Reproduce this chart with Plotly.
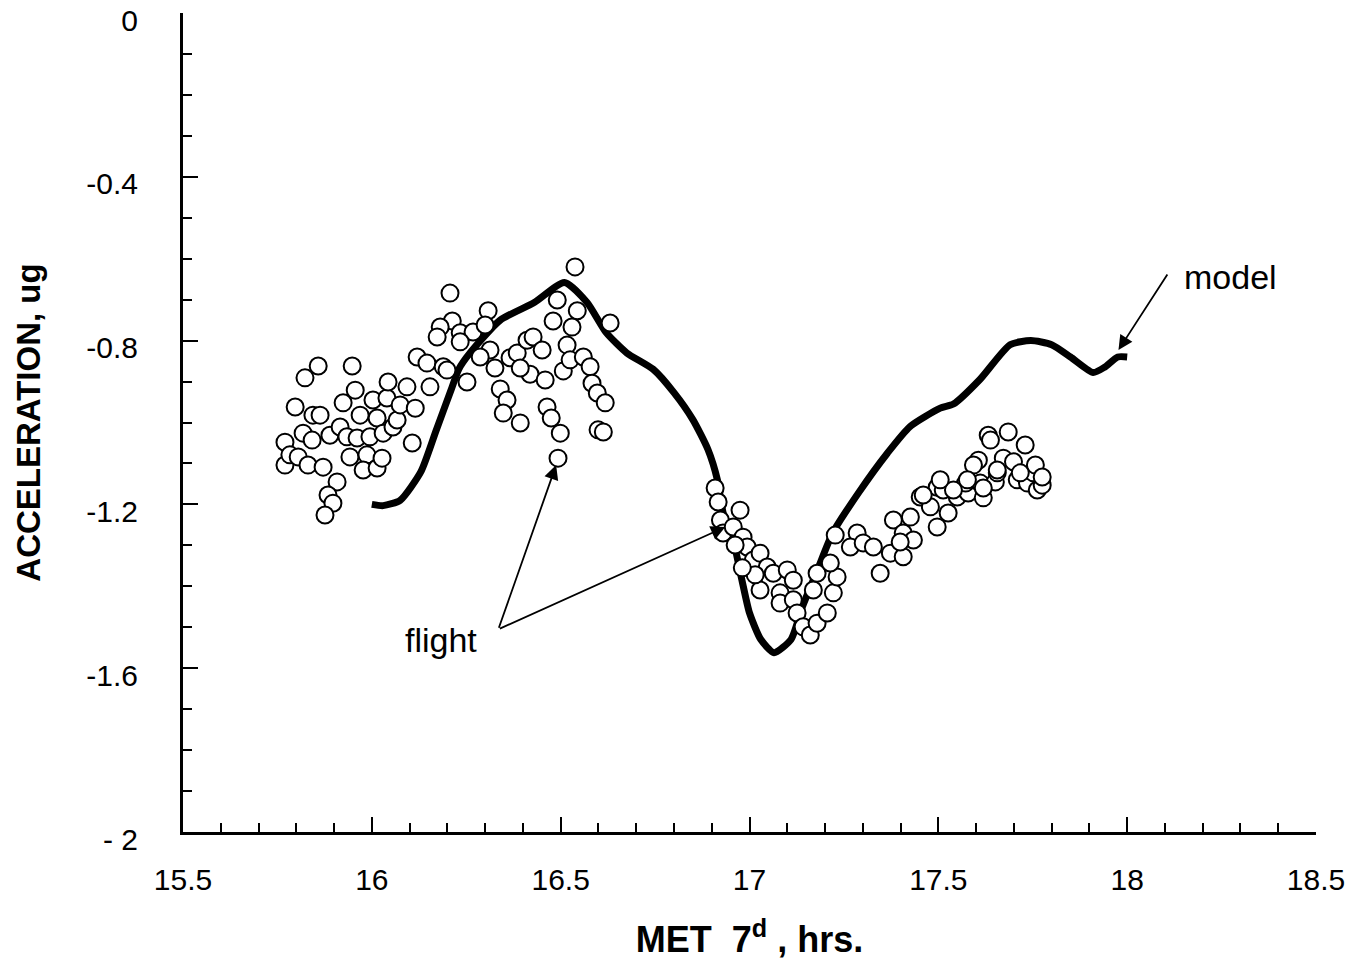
import plotly.graph_objects as go

# ---- data ----
model_x = [16.00, 16.03, 16.075, 16.13, 16.17, 16.21, 16.23, 16.26, 16.34, 16.43, 16.51,
           16.57, 16.62, 16.675, 16.745, 16.80, 16.85, 16.89, 16.915, 16.93, 16.96, 16.98,
           17.00, 17.03, 17.065, 17.11, 17.14, 17.18, 17.22, 17.29, 17.365, 17.425, 17.505,
           17.54, 17.61, 17.69, 17.745, 17.80, 17.85, 17.91, 17.94, 17.975, 18.00]
model_y = [-1.200, -1.203, -1.19, -1.12, -1.02, -0.92, -0.87, -0.83, -0.75, -0.707, -0.658,
           -0.707, -0.78, -0.83, -0.87, -0.927, -0.993, -1.066, -1.14, -1.22, -1.30, -1.385,
           -1.465, -1.53, -1.562, -1.53, -1.45, -1.36, -1.27, -1.17, -1.075, -1.01, -0.965,
           -0.955, -0.895, -0.81, -0.80, -0.81, -0.84, -0.878, -0.865, -0.84, -0.84]

flight_x = [
    15.770, 15.770, 15.783, 15.805, 15.797, 15.823, 15.858, 15.948, 15.818, 15.842,
    15.831, 15.844, 15.863, 15.871, 15.889, 15.916, 15.924, 15.956, 15.934, 15.961,
    15.942, 15.969, 15.995, 15.987, 15.977, 16.003, 16.014, 16.014, 16.030, 16.027,
    16.040, 16.043, 16.056, 16.067, 16.075, 16.093, 16.115, 16.107, 15.908, 15.884,
    15.897, 15.876,
    16.120, 16.146, 16.189, 16.154, 16.207, 16.308, 16.213, 16.181, 16.173, 16.234,
    16.268, 16.300, 16.234, 16.313, 16.287, 16.326, 16.252, 16.199, 16.340, 16.358,
    16.348, 16.393, 16.366, 16.385, 16.419, 16.393, 16.411, 16.427, 16.451, 16.459,
    16.480, 16.491, 16.538, 16.544, 16.530, 16.517, 16.507, 16.525, 16.560, 16.578,
    16.583, 16.597, 16.618, 16.599, 16.613, 16.631, 16.464, 16.475, 16.499, 16.493,
    16.909, 16.917, 16.975, 16.923, 16.930, 16.957, 16.983, 16.994, 17.010, 17.028,
    17.047, 17.063, 17.100, 17.116, 17.028, 17.081, 17.081, 17.116, 17.126, 17.142,
    17.161, 17.179, 17.169, 17.179, 17.206, 17.222, 17.232, 17.214, 17.227, 17.285,
    17.267, 17.301, 17.346, 17.328, 17.373, 17.381, 17.407, 17.434, 17.426, 17.452,
    17.479, 17.497, 17.497, 16.962, 17.015, 16.981,
    17.407, 17.399, 17.526, 17.513, 17.550, 17.579, 17.572, 17.619, 17.611, 17.651,
    17.656, 17.709, 17.736, 17.762, 17.775, 17.752, 17.632, 17.638, 17.685, 17.730,
    17.606, 17.593, 17.672, 17.699, 17.757, 17.775, 17.717, 17.656, 17.619, 17.577,
    17.540, 17.505, 17.460,
]
flight_y = [
    -1.048, -1.104, -1.079, -1.084, -0.962, -0.891, -0.862, -0.862, -1.026, -1.043,
    -1.104, -0.982, -0.982, -1.109, -1.031, -1.011, -0.952, -0.921, -1.035, -1.038,
    -1.084, -0.982, -1.035, -1.079, -1.116, -0.945, -0.989, -1.111, -1.026, -1.087,
    -0.940, -0.901, -1.011, -0.994, -0.957, -0.913, -0.965, -1.050, -1.145, -1.177,
    -1.197, -1.226,
    -0.840, -0.855, -0.864, -0.913, -0.684, -0.727, -0.752, -0.767, -0.791, -0.781,
    -0.779, -0.762, -0.803, -0.823, -0.840, -0.867, -0.901, -0.872, -0.918, -0.945,
    -0.977, -1.001, -0.842, -0.830, -0.882, -0.867, -0.799, -0.791, -0.823, -0.896,
    -0.752, -0.701, -0.620, -0.727, -0.767, -0.811, -0.874, -0.847, -0.840, -0.864,
    -0.904, -0.928, -0.952, -1.018, -1.023, -0.757, -0.962, -0.989, -1.026, -1.087,
    -1.160, -1.194, -1.214, -1.238, -1.270, -1.255, -1.280, -1.304, -1.336, -1.319,
    -1.353, -1.368, -1.360, -1.385, -1.409, -1.416, -1.441, -1.433, -1.465, -1.499,
    -1.519, -1.490, -1.409, -1.368, -1.465, -1.416, -1.377, -1.343, -1.275, -1.270,
    -1.304, -1.294, -1.368, -1.304, -1.319, -1.238, -1.270, -1.287, -1.231, -1.182,
    -1.206, -1.255, -1.158, -1.299, -1.372, -1.355,
    -1.328, -1.292, -1.221, -1.165, -1.182, -1.172, -1.148, -1.184, -1.148, -1.145,
    -1.123, -1.140, -1.148, -1.165, -1.153, -1.123, -1.031, -1.043, -1.023, -1.055,
    -1.092, -1.104, -1.087, -1.096, -1.104, -1.133, -1.123, -1.116, -1.160, -1.140,
    -1.165, -1.140, -1.177,
]

x_tickvals = [15.5, 16, 16.5, 17, 17.5, 18, 18.5]
x_ticktext = ["15.5", "16", "16.5", "17", "17.5", "18", "18.5"]
y_tickvals = [0, -0.4, -0.8, -1.2, -1.6, -2]
y_ticktext = ["0", "-0.4", "-0.8", "-1.2", "-1.6", "- 2"]

FONT = "Liberation Sans, Arial, Helvetica, sans-serif"

fig = go.Figure()
fig.add_trace(go.Scatter(
    x=model_x, y=model_y, mode="lines",
    line=dict(color="black", width=7, shape="spline", smoothing=0.6),
    name="model", showlegend=False, hoverinfo="skip"))
fig.add_trace(go.Scatter(
    x=flight_x, y=flight_y, mode="markers",
    marker=dict(size=17, color="white", line=dict(color="black", width=2)),
    name="flight", showlegend=False))

arrow_common = dict(xref="x", yref="y", axref="x", ayref="y", showarrow=True,
                    arrowhead=2, arrowsize=1.6, arrowwidth=1.8, arrowcolor="black", text="")
fig.add_annotation(x=17.977, y=-0.823, ax=18.109, ay=-0.635, **arrow_common)
fig.add_annotation(x=16.488, y=-1.104, ax=16.335, ay=-1.505, **arrow_common)
fig.add_annotation(x=16.936, y=-1.255, ax=16.335, ay=-1.505, **arrow_common)

fig.add_annotation(x=18.144, y=-0.645, xref="x", yref="y", text="model", showarrow=False,
                   xanchor="left", yanchor="middle", font=dict(family=FONT, size=34, color="black"))
fig.add_annotation(x=16.083, y=-1.531, xref="x", yref="y", text="flight", showarrow=False,
                   xanchor="left", yanchor="middle", font=dict(family=FONT, size=34, color="black"))

fig.update_layout(
    width=1358, height=966,
    margin=dict(l=183, r=42, t=13, b=134, autoexpand=False),
    paper_bgcolor="white", plot_bgcolor="white",
    font=dict(family=FONT, size=30, color="black"),
)
fig.update_xaxes(
    range=[15.5, 18.5], showgrid=False, zeroline=False, automargin=False,
    showline=True, linecolor="black", linewidth=3,
    ticks="inside", ticklen=15, tickwidth=2, tickcolor="black",
    tickvals=x_tickvals, ticktext=x_ticktext, ticklabelstandoff=19,
    ticklabeloverflow="allow",
    tickfont=dict(family=FONT, size=30),
    minor=dict(dtick=0.1, tick0=15.5, ticks="inside", ticklen=9, tickwidth=2, tickcolor="black"),
    title=dict(text="<b>MET  7<sup>d</sup> , hrs.</b>", font=dict(family=FONT, size=36), standoff=32),
)
fig.update_yaxes(
    range=[-2, 0], showgrid=False, zeroline=False, automargin=False,
    showline=True, linecolor="black", linewidth=3,
    ticks="inside", ticklen=15, tickwidth=2, tickcolor="black",
    tickvals=y_tickvals, ticktext=y_ticktext, ticklabelstandoff=36,
    ticklabelshift=7, ticklabeloverflow="allow",
    tickfont=dict(family=FONT, size=30),
    minor=dict(dtick=0.1, tick0=0, ticks="inside", ticklen=9, tickwidth=2, tickcolor="black"),
    title=dict(text="<b>ACCELERATION, ug</b>", font=dict(family=FONT, size=33), standoff=36),
)

fig.write_html("out.html")
